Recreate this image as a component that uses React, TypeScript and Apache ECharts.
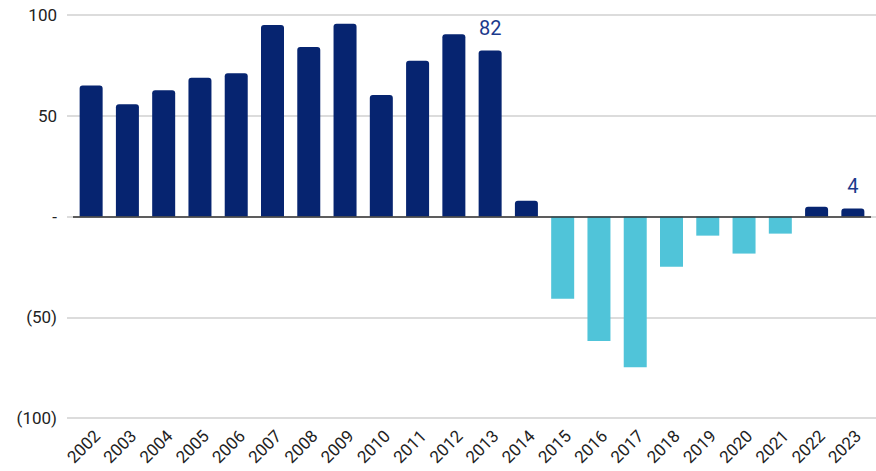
import React, { useEffect, useRef } from "react";
import * as echarts from "echarts";

const years = ["2002","2003","2004","2005","2006","2007","2008","2009","2010","2011","2012","2013","2014","2015","2016","2017","2018","2019","2020","2021","2022","2023"];
const values = [65, 55.7, 62.7, 68.8, 71.1, 95, 84.1, 95.7, 60.3, 77.3, 90.4, 82.4, 7.8, -40.8, -61.8, -74.8, -24.9, -9.5, -18.4, -8.5, 4.8, 4.0];
const labelledYears = ["2013", "2023"];
const yTicks = [-100, -50, 0, 50, 100];

const NAVY = "#062470";
const CYAN = "#50C4D9";

export default function App() {
  const ref = useRef<HTMLDivElement>(null);
  useEffect(() => {
    if (!ref.current) return;
    const chart = echarts.init(ref.current, null, { renderer: "svg" });
    const data = values.map((v, i) => ({
      value: v,
      itemStyle: {
        color: v >= 0 ? NAVY : CYAN,
        borderRadius: v >= 0 ? [3, 3, 0, 0] : 0,
      },
      label: {
        show: labelledYears.includes(years[i]),
        position: "top",
        distance: 12,
        formatter: () => String(Math.round(v)),
        color: "#1B3A8C",
        fontSize: 20,
        fontFamily: "Roboto",
      },
    }));
    chart.setOption({
      animation: false,
      grid: [
        { left: 67, right: 0, top: 15, bottom: 53 },
        { left: 73, right: 5, top: 15, bottom: 53 },
        { left: 79, width: 798, top: 15, bottom: 53 },
      ],
      xAxis: [
        { type: "category", gridIndex: 0, data: years, show: false },
        {
          type: "category",
          gridIndex: 1,
          data: years,
          axisLine: { show: false },
          axisTick: { show: false },
          axisLabel: { show: false },
        },
        {
          type: "category",
          gridIndex: 2,
          data: years,
          axisLine: { show: false },
          axisTick: { show: false },
          axisLabel: {
            rotate: 45,
            interval: 0,
            margin: 15,
            color: "#222",
            fontSize: 17,
            fontFamily: "Roboto",
          },
        },
      ],
      yAxis: [
        {
          type: "value",
          gridIndex: 0,
          min: yTicks[0],
          max: yTicks[yTicks.length - 1],
          interval: 50,
          axisLine: { show: false },
          axisTick: { show: false },
          axisLabel: {
            margin: 10,
            color: "#222",
            fontSize: 17,
            fontFamily: "Roboto",
            formatter: (v: number) => (v === 0 ? "-" : v < 0 ? `(${Math.abs(v)})` : String(v)),
          },
          splitLine: { lineStyle: { color: "#d0d0d0", width: 1.5 } },
        },
        {
          type: "value",
          gridIndex: 1,
          min: yTicks[0],
          max: yTicks[yTicks.length - 1],
          interval: 50,
          show: false,
          splitLine: { show: false },
        },
        {
          type: "value",
          gridIndex: 2,
          min: yTicks[0],
          max: yTicks[yTicks.length - 1],
          interval: 50,
          show: false,
          splitLine: { show: false },
        },
      ],
      series: [
        {
          type: "bar",
          xAxisIndex: 1,
          yAxisIndex: 1,
          data,
          barWidth: 23,
          markLine: {
            silent: true,
            symbol: "none",
            label: { show: false },
            lineStyle: { color: "#333", width: 1.5, type: "solid" },
            data: [{ yAxis: 0 }],
          },
        },
      ],
    });
    return () => chart.dispose();
  }, []);
  return (
    <div
      ref={ref}
      style={{ position: "absolute", left: 0, top: 0, width: 876, height: 471 }}
    />
  );
}
